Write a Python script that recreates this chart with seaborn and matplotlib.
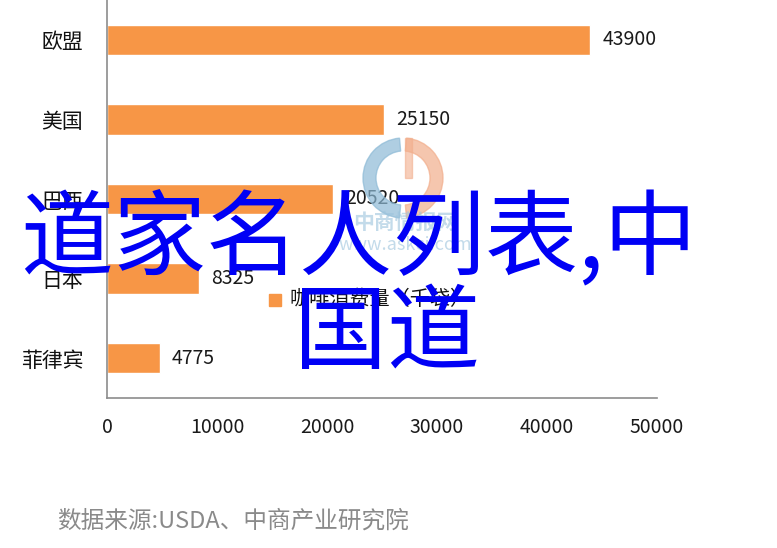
import matplotlib
matplotlib.use("Agg")
import matplotlib.pyplot as plt
import seaborn as sns
import pandas as pd
from matplotlib.patches import Rectangle, Wedge

# datos
paises = ["欧盟", "美国", "巴西", "日本", "菲律宾"]
consumo = [43900, 25150, 20520, 8325, 4775]
xticks = [0, 10000, 20000, 30000, 40000, 50000]
leyenda = "咖啡消费量（千袋）"
fuente = "数据来源:USDA、中商产业研究院"
titulo1 = "道家名人列表,中"
titulo2 = "国道"

sns.set_style("white")
plt.rcParams["font.family"] = ["Noto Sans CJK SC", "DejaVu Sans"]

df = pd.DataFrame({"pais": paises, "consumo": consumo})

fig = plt.figure(figsize=(7.77, 5.48), dpi=100)
fig.patch.set_facecolor("white")

ax = fig.add_axes([107 / 777, 1 - 398 / 548, 550 / 777, 398 / 548])
sns.barplot(data=df, x="consumo", y="pais", color="#F79646", saturation=1,
            width=0.38, ax=ax)
ax.set_xlim(0, 50000)
ax.set_ylim(4.5, -0.5)
ax.set_xlabel("")
ax.set_ylabel("")

for s in ["top", "right"]:
    ax.spines[s].set_visible(False)
for s in ["left", "bottom"]:
    ax.spines[s].set_color("#8c8c8c")
    ax.spines[s].set_linewidth(1.2)

ax.set_xticks(xticks)
ax.set_xticklabels([str(v) for v in xticks], fontsize=14, color="#1a1a1a")
ax.tick_params(axis="x", length=4.5, width=1.2, color="#8c8c8c", pad=9)
ax.set_yticks(range(len(paises)))
ax.set_yticklabels(paises, fontsize=15, color="#111111")
ax.tick_params(axis="y", length=0, pad=17)
ax.set_yticks([i - 0.5 for i in range(len(paises) + 1)], minor=True)
ax.tick_params(axis="y", which="minor", length=4.5, width=1.2, color="#8c8c8c")

ax.bar_label(ax.containers[0], labels=[str(v) for v in consumo],
             padding=9, fontsize=14, color="#1a1a1a")

# capa superior en coordenadas de pixel
ov = fig.add_axes([0, 0, 1, 1])
ov.set_xlim(0, 777)
ov.set_ylim(548, 0)
ov.axis("off")
ov.patch.set_alpha(0)

# marca de agua
ov.add_patch(Wedge((403, 178), 40, 95, 265, width=13, color="#8dbad6", alpha=0.7))
ov.add_patch(Wedge((403, 178), 40, -85, 85, width=13, color="#f2ae8c", alpha=0.7))
ov.add_patch(Rectangle((405, 138), 7, 40, color="#f2ae8c", alpha=0.6))
ov.text(405, 222, "中商情报网", fontsize=15, color="#9cc3dc", alpha=0.6,
        ha="center", va="center", fontweight="bold")
ov.text(405, 245, "www.askci.com", fontsize=13, color="#9cc3dc", alpha=0.6,
        ha="center", va="center")

# leyenda
ov.add_patch(Rectangle((269, 294), 12, 12, color="#F79646"))
ov.text(289, 299, leyenda, fontsize=14.5, color="#111111", va="center")

# fuente
ov.text(57, 521, fuente, fontsize=17, color="#8a8a8a", va="center",
        fontweight="light")

# texto azul superpuesto
ov.text(20, 240, titulo1, fontsize=67, color="#0000f5", va="center",
        fontweight="medium", zorder=10)
ov.text(294, 335, titulo2, fontsize=67, color="#0000f5", va="center",
        fontweight="medium", zorder=10)

fig.savefig("out.png", dpi=100)
